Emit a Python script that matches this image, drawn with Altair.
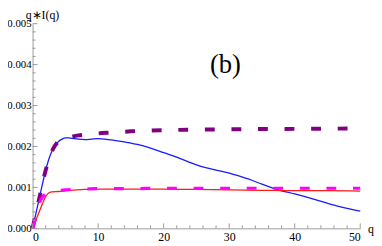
import altair as alt
import pandas as pd

# ---- data ----
blue_q = [0, 0.5, 1, 1.5, 2, 2.5, 3, 3.5, 4, 4.5, 5, 5.5, 6, 7, 8, 9, 10, 11, 12, 14, 16, 18, 20, 22, 25, 28, 30, 33, 35, 37.5, 40, 43, 46, 48, 50]
blue_v = [0, 0.00036, 0.00072, 0.00108, 0.00142, 0.00170, 0.00190, 0.00204, 0.00213, 0.00218, 0.00221, 0.00221, 0.00220, 0.00218, 0.00217, 0.00218, 0.00219, 0.00218, 0.00216, 0.00211, 0.00205, 0.00196, 0.00185, 0.00174, 0.00155, 0.00142, 0.00135, 0.00120, 0.00108, 0.00094, 0.00084, 0.00071, 0.00057, 0.00049, 0.00042]

purple_q = [0, 1, 2, 3, 4, 5, 6, 7, 8, 10, 12, 15, 20, 25, 30, 40, 50]
purple_v = [0, 0.00072, 0.00142, 0.00190, 0.00213, 0.00220, 0.00224, 0.00227, 0.00229, 0.00232, 0.00234, 0.00237, 0.00240, 0.00241, 0.00242, 0.00243, 0.00244]

red_q = [0, 0.5, 1, 1.5, 2, 2.5, 3, 4, 5, 6, 8, 10, 15, 20, 25, 30, 35, 40, 45, 50]
red_v = [0, 0.00020, 0.00040, 0.00060, 0.00078, 0.00087, 0.00089, 0.00090, 0.00092, 0.00093, 0.00095, 0.00096, 0.00096, 0.00096, 0.00095, 0.00094, 0.00093, 0.00092, 0.00092, 0.00091]

magenta_q = [0, 0.5, 1, 1.5, 2, 3, 4, 5, 6, 8, 10, 15, 20, 30, 40, 50]
magenta_v = [0, 0.00028, 0.00060, 0.00076, 0.00084, 0.00090, 0.00092, 0.00094, 0.00095, 0.00096, 0.00097, 0.00097, 0.00098, 0.00098, 0.00098, 0.00098]

x_major = [0, 10, 20, 30, 40, 50]
x_minor = [2, 4, 6, 8, 12, 14, 16, 18, 22, 24, 26, 28, 32, 34, 36, 38, 42, 44, 46, 48]
y_major = [0.0, 0.001, 0.002, 0.003, 0.004, 0.005]
y_minor = [0.0002, 0.0004, 0.0006, 0.0008, 0.0012, 0.0014, 0.0016, 0.0018,
           0.0022, 0.0024, 0.0026, 0.0028, 0.0032, 0.0034, 0.0036, 0.0038,
           0.0042, 0.0044, 0.0046, 0.0048]

W, H = 333, 208
FONT = "Liberation Serif"
AX = "#9a9a9a"

xs = alt.Scale(domain=[0, 50], nice=False, zero=False)
ys = alt.Scale(domain=[0, 0.005], nice=False, zero=False)

x_axis = alt.Axis(values=x_major, tickSize=0, grid=False, domainColor=AX, domainWidth=1,
                  labelFont=FONT, labelFontSize=12, labelColor="black", labelPadding=3, title=None)
y_axis = alt.Axis(values=y_major, format=".3f", tickSize=0, grid=False, domainColor=AX, domainWidth=1,
                  labelFont=FONT, labelFontSize=11, labelColor="black", labelPadding=1.5, title=None)


def line(qs, vs, color, width, dash=None):
    df = pd.DataFrame({"q": qs, "v": vs})
    kw = dict(color=color, strokeWidth=width, interpolate="monotone")
    if dash:
        kw["strokeDash"] = dash
    return alt.Chart(df).mark_line(**kw).encode(
        x=alt.X("q:Q", scale=xs, axis=x_axis),
        y=alt.Y("v:Q", scale=ys, axis=y_axis),
    )


def xticks(vals, length):
    return alt.Chart(pd.DataFrame({"q": vals})).mark_rule(color=AX, strokeWidth=1).encode(
        x=alt.X("q:Q", scale=xs, axis=x_axis), y=alt.value(H), y2=alt.value(H - length))


def yticks(vals, length):
    return alt.Chart(pd.DataFrame({"v": vals})).mark_rule(color=AX, strokeWidth=1).encode(
        y=alt.Y("v:Q", scale=ys, axis=y_axis), x=alt.value(0), x2=alt.value(length))


blue = line(blue_q, blue_v, "#1a1aff", 1.3)
red = line(red_q, red_v, "#ff1a1a", 1.3)
purple = line(purple_q, purple_v, "#800080", 4, [10, 17])
magenta = line(magenta_q, magenta_v, "#ff00ff", 3.2, [10, 17])

txt = pd.DataFrame({"t": ["x"]})
ylab = alt.Chart(txt).mark_text(text="q\u2217I(q)", font=FONT, fontSize=12, color="black",
                                align="center", baseline="top").encode(
    x=alt.value(10), y=alt.value(-14))
xlab = alt.Chart(txt).mark_text(text="q", font=FONT, fontSize=12, color="black",
                                align="left", baseline="middle").encode(
    x=alt.value(W + 8), y=alt.value(H + 1))
panel = alt.Chart(txt).mark_text(text="(b)", font=FONT, fontSize=27, color="black",
                                 align="center", baseline="middle").encode(
    x=alt.value(196), y=alt.value(42))

chart = alt.layer(
    blue, red, purple, magenta,
    xticks(x_major, 5), xticks(x_minor, 3), yticks(y_major, 5), yticks(y_minor, 3),
    ylab, xlab, panel,
).properties(
    width=W, height=H,
    background="white",
    autosize=alt.AutoSizeParams(type="none"),
    padding={"left": 25, "top": 14, "right": 14, "bottom": 16},
).configure_view(stroke=None).configure_axis(
    labelFont=FONT, labelColor="black"
).configure_axisX(labelFontSize=12).configure_axisY(labelFontSize=11).configure_text(font=FONT)

chart.save("out.html", embed_options={"renderer": "svg", "actions": False})
